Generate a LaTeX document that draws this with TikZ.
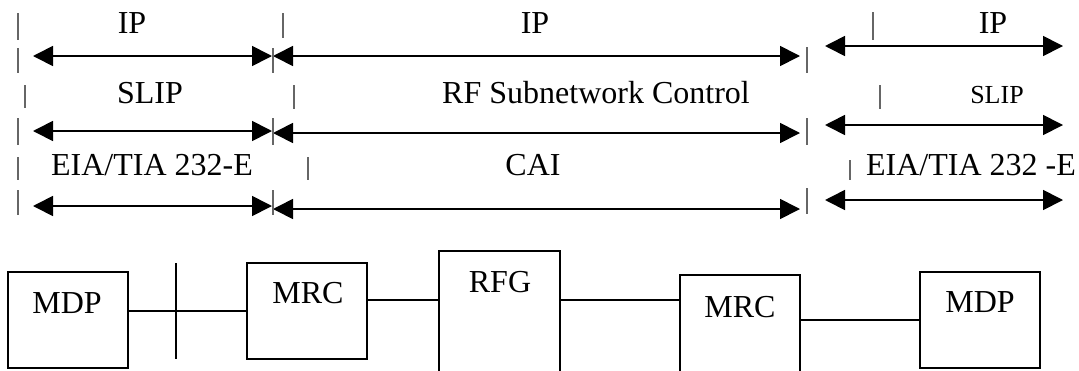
\documentclass[tikz,border=0pt]{standalone}
\usepackage{fontspec}
\setmainfont{Liberation Serif}
\usetikzlibrary{arrows.meta}

\begin{document}
\begin{tikzpicture}[x=0.5pt, y=-0.5pt,
  span/.style={{Triangle[length=10pt,width=10pt]}-{Triangle[length=10pt,width=10pt]}, line width=0.85pt},
  divider/.style={black!60, line width=0.6pt},
  box/.style={draw, line width=1pt, inner sep=0pt, minimum width=60pt},
  proto/.style={font=\fontsize{16}{19}\selectfont, anchor=base, inner sep=0pt},
  link/.style={line width=0.8pt}]

\useasboundingbox (0,0) rectangle (1079,370);
\clip (0,0) rectangle (1079,370);

%%% --- protocol layers --- %%%
\node[proto] (ipA) at (132,33) {IP};
\node[proto] (ipB) at (535,33) {IP};
\node[proto] (ipC) at (993,33) {IP};

\node[proto] (slipA) at (150,103) {SLIP};
\node[proto] (rfsc) at (596,103) {RF Subnetwork Control};
\node[proto, font=\fontsize{13}{15}\selectfont] (slipB) at (997,103) {SLIP};

\node[proto] (eiaA) at (152,175) {EIA/TIA 232-E};
\node[proto] (cai) at (533,175) {CAI};
\node[proto] (eiaB) at (971,175) {EIA/TIA 232 -E};

% spans under each layer
\foreach \ya/\yb/\yc in {56/56/46, 131/133/125, 206/209/200} {
  \draw[span] (33,\ya) -- (272,\ya);
  \draw[span] (273,\yb) -- (800,\yb);
  \draw[span] (825,\yc) -- (1063,\yc);
}

% separators
\foreach \x/\ya/\yb in {18/13/40, 283/13/38, 873/12/40,
                        18/48/73, 273/48/73, 807/47/73,
                        25/85/108, 294/85/109, 880/85/109,
                        18/118/145, 273/118/145, 807/118/145,
                        18/157/180, 308/157/180, 850/160/180,
                        18/190/215, 273/190/215, 807/188/214}
  \draw[divider] (\x,\ya) -- (\x,\yb);


%%% --- stations --- %%%
\node[box, minimum height=48pt] (mdpA) at (68,320) {};
\node[box, minimum height=48pt] (mrcA) at (307,311) {};
\node[box, minimum width=60.5pt, minimum height=69.5pt] (rfg) at (499.5,320.5) {};
\node[box, minimum height=57.5pt] (mrcB) at (740,332.5) {};
\node[box, minimum height=48pt] (mdpB) at (980,320) {};

\node[proto] (mdpAtxt) at (67,313) {MDP};
\node[proto] (mrcAtxt) at (308,303) {MRC};
\node[proto] (rfgtxt) at (500,292) {RFG};
\node[proto] (mrcBtxt) at (740,317) {MRC};
\node[proto] (mdpBtxt) at (980,312) {MDP};

% links
\draw[link] (mdpA.east |- mrcA.west) -- (mrcA.west);
\draw[link] (176,263) -- (176,359);
\draw[link] (mrcA.east |- 0,300) -- (rfg.west |- 0,300);
\draw[link] (rfg.east |- 0,300) -- (mrcB.west |- 0,300);
\draw[link] (mrcB.east |- mdpB.west) -- (mdpB.west);

\end{tikzpicture}
\end{document}
